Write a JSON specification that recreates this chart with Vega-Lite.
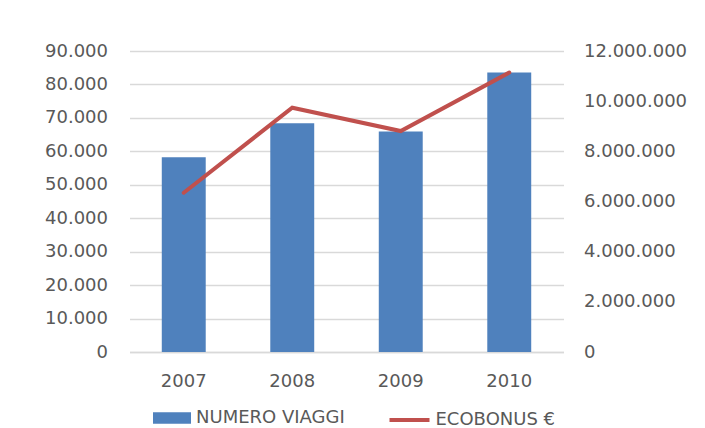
{
  "$schema": "https://vega.github.io/schema/vega-lite/v6.json",
  "width": 434,
  "height": 301,
  "autosize": {"type": "none"},
  "padding": {"left": 129.5, "top": 51, "right": 141.5, "bottom": 76},
  "background": "white",
  "config": {
    "locale": {"number": {"decimal": ",", "thousands": ".", "grouping": [3], "currency": ["€", ""]}},
    "view": {"stroke": null},
    "font": "DejaVu Sans",
    "axis": {
      "labelFont": "DejaVu Sans",
      "labelFontSize": 18,
      "labelColor": "#595959",
      "ticks": false,
      "title": null
    },
    "legend": {
      "labelFont": "DejaVu Sans",
      "labelFontSize": 18,
      "labelColor": "#595959",
      "title": null
    }
  },
  "data": {
    "values": [
      {"anno": "2007", "viaggi": 58200, "ecobonus": 6350000},
      {"anno": "2008", "viaggi": 68400, "ecobonus": 9740000},
      {"anno": "2009", "viaggi": 65900, "ecobonus": 8810000},
      {"anno": "2010", "viaggi": 83600, "ecobonus": 11140000}
    ]
  },
  "encoding": {
    "x": {
      "field": "anno",
      "type": "nominal",
      "sort": null,
      "scale": {"paddingInner": 0.595, "paddingOuter": 0.2975},
      "axis": {
        "labelAngle": 0,
        "labelPadding": 20,
        "domainColor": "#D9D9D9",
        "domainWidth": 1.5
      }
    }
  },
  "layer": [
    {
      "mark": {"type": "bar"},
      "encoding": {
        "y": {
          "field": "viaggi",
          "type": "quantitative",
          "scale": {"domain": [0, 90000], "nice": false},
          "axis": {
            "orient": "left",
            "values": [0, 10000, 20000, 30000, 40000, 50000, 60000, 70000, 80000, 90000],
            "format": ",d",
            "domain": false,
            "grid": true,
            "gridColor": "#D9D9D9",
            "gridWidth": 1.5,
            "labelPadding": 22
          }
        },
        "fill": {
          "datum": "NUMERO VIAGGI",
          "scale": {"range": ["#4F81BD"]},
          "legend": {
            "orient": "none",
            "legendX": 23.5,
            "legendY": 348,
            "symbolType": "M-1,-0.3H1V0.3H-1Z",
            "symbolSize": 1444,
            "symbolStrokeWidth": 0,
            "labelOffset": 5
          }
        }
      }
    },
    {
      "mark": {"type": "line", "strokeWidth": 4, "strokeCap": "round", "strokeJoin": "miter"},
      "encoding": {
        "y": {
          "field": "ecobonus",
          "type": "quantitative",
          "scale": {"domain": [0, 12000000], "nice": false},
          "axis": {
            "orient": "right",
            "values": [0, 2000000, 4000000, 6000000, 8000000, 10000000, 12000000],
            "format": ",d",
            "domain": false,
            "grid": false,
            "labelPadding": 20
          }
        },
        "stroke": {
          "datum": "ECOBONUS €",
          "scale": {"range": ["#C0504D"]},
          "legend": {
            "orient": "none",
            "legendX": 258,
            "legendY": 347,
            "symbolType": "stroke",
            "symbolSize": 1600,
            "symbolStrokeWidth": 4,
            "labelOffset": 4
          }
        }
      }
    }
  ],
  "resolve": {"scale": {"y": "independent", "fill": "independent", "stroke": "independent"}}
}
